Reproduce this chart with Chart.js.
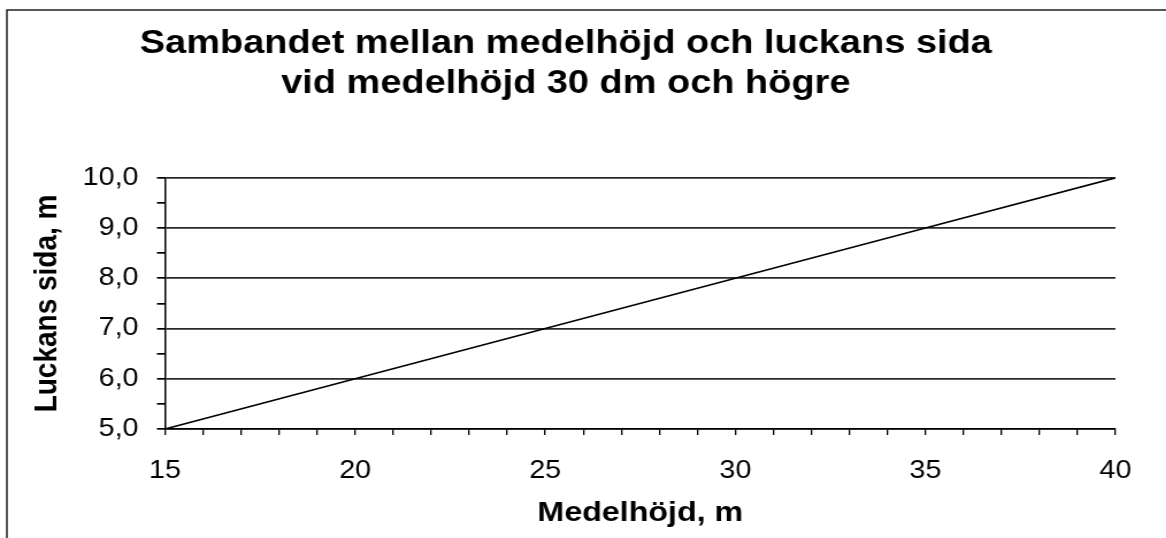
<!DOCTYPE html>
<html>
<head>
<meta charset="utf-8">
<script src="https://cdn.jsdelivr.net/npm/chart.js@4/dist/chart.umd.min.js"></script>
<style>
  html, body { margin: 0; padding: 0; background: #fff; overflow: hidden; }
  /* originalet är något utdraget i sidled */
  #wrap { width: 1014px; height: 538px; transform: scaleX(1.15); transform-origin: 0 0; }
</style>
</head>
<body>
<div id="wrap"><canvas id="chart" width="1014" height="538"></canvas></div>
<script>
// Data
const medelhojd = [15, 20, 25, 30, 35, 40];
const luckansSida = [5, 6, 7, 8, 9, 10];
const titleLines = ["Sambandet mellan medelhöjd och luckans sida", "vid medelhöjd 30 dm och högre"];
const xTitle = "Medelhöjd, m";
const yTitle = "Luckans sida, m";

const FONT = "'Liberation Sans', Arial, sans-serif";

// ram runt diagrammet (vänster och övre kant)
const frame = {
  id: "frame",
  beforeDraw(chart) {
    const c = chart.ctx;
    c.save();
    c.strokeStyle = "#222";
    c.lineWidth = 1.5;
    c.beginPath();
    c.moveTo(6, chart.height);
    c.lineTo(6, 10);
    c.lineTo(chart.width, 10);
    c.stroke();
    c.restore();
  }
};

const isWhole = v => Math.abs(v - Math.round(v)) < 1e-6;

const ctx = document.getElementById("chart").getContext("2d");
new Chart(ctx, {
  type: "line",
  data: {
    datasets: [{
      data: medelhojd.map((x, i) => ({ x: x, y: luckansSida[i] })),
      borderColor: "#000",
      borderWidth: 1.6,
      pointRadius: 0,
      tension: 0,
      fill: false
    }]
  },
  options: {
    responsive: false,
    animation: false,
    layout: { padding: { left: 14, right: 44, top: 0, bottom: 0 } },
    plugins: {
      legend: { display: false },
      tooltip: { enabled: false },
      title: {
        display: true,
        text: titleLines,
        color: "#000",
        font: { family: FONT, size: 33, weight: "bold", lineHeight: 1.21 },
        padding: { top: 24, bottom: 74 }
      }
    },
    scales: {
      x: {
        type: "linear",
        min: 15,
        max: 40,
        afterFit(scale) { scale.height = 109; },
        ticks: {
          stepSize: 1,
          autoSkip: false,
          maxRotation: 0,
          color: "#000",
          padding: 21,
          font: { family: FONT, size: 25 },
          callback: v => (v % 5 === 0 ? String(v) : "")
        },
        grid: { drawOnChartArea: false, tickLength: 6, color: "#000", lineWidth: 1.3 },
        border: { display: true, color: "#000", width: 1.5 },
        title: {
          display: true,
          text: xTitle,
          color: "#000",
          font: { family: FONT, size: 28, weight: "bold" },
          padding: { top: 0, bottom: 8 }
        }
      },
      y: {
        min: 5,
        max: 10,
        afterFit(scale) { scale.width = 129.5; },
        ticks: {
          stepSize: 0.5,
          autoSkip: false,
          color: "#000",
          padding: 16,
          font: { family: FONT, size: 25 },
          callback: v => (isWhole(v) ? v.toFixed(1).replace(".", ",") : "")
        },
        grid: {
          tickLength: 7,
          lineWidth: 1.7,
          color: c => (isWhole(c.tick.value) ? "#2a2a2a" : "rgba(0,0,0,0)"),
          tickColor: "#000"
        },
        border: { display: true, color: "#000", width: 1.5 },
        title: {
          display: true,
          text: yTitle,
          color: "#000",
          font: { family: FONT, size: 28, weight: "bold" },
          padding: { top: 10, bottom: 0 }
        }
      }
    }
  },
  plugins: [frame]
});
</script>
</body>
</html>
